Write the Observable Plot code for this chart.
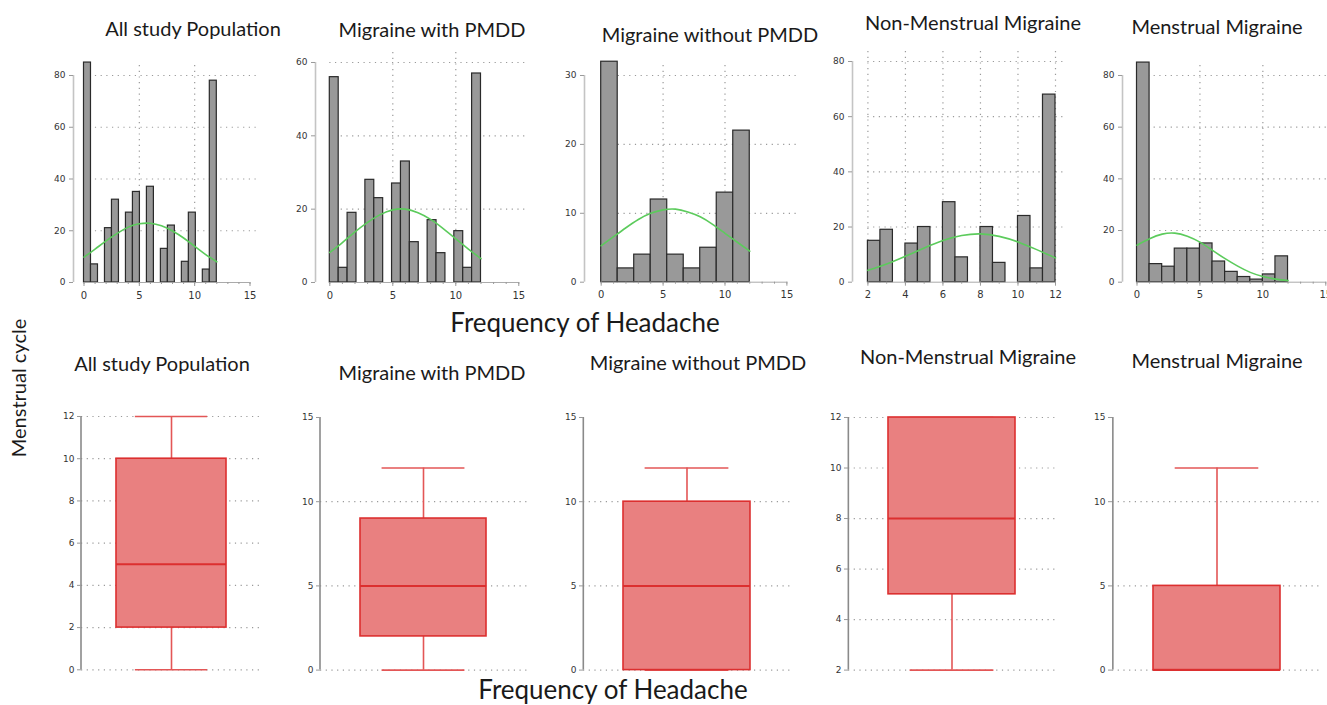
<!DOCTYPE html>
<html><head><meta charset="utf-8">
<script src="https://cdn.jsdelivr.net/npm/d3@7"></script>
<script src="https://cdn.jsdelivr.net/npm/@observablehq/plot@0.6"></script>
<style>
body{margin:0;background:#fff;}
#page{position:relative;width:1327px;height:705px;overflow:hidden;font-family:Lato,"Open Sans",sans-serif;}
.t{position:absolute;transform:translate(-50%,-50%);white-space:nowrap;color:#1a1a1a;font-size:20px;}
.big{font-size:26px;}
.rot{transform:translate(-50%,-50%) rotate(-90deg);font-size:20px;}
.panel{position:absolute;}
.panel svg{max-width:none !important;}
</style></head><body><div id="page"></div>
<script>
// ---------------- DATA ----------------
const groupNames = ["All study Population","Migraine with PMDD","Migraine without PMDD","Non-Menstrual Migraine","Menstrual Migraine"];
const axisTitle = "Frequency of Headache";
const sideTitle = "Menstrual cycle";

// histogram counts per bin (bins spread evenly between binStart and binEnd)
const histAll      = [85,7,0,21,32,0,27,35,0,37,0,13,22,0,8,27,0,5,78];
const histWithPMDD = [56,4,19,0,28,23,0,27,33,11,0,17,8,0,14,4,57];
const histNoPMDD   = [32,2,4,12,4,2,5,13,22];
const histNonMM    = [15,19,0,14,20,0,29,9,0,20,7,0,24,5,68];
const histMM       = [85,7,6,13,13,15,8,4,2,1,3,10];
const binStart = [0,0,0,2,0];
const binEnd   = [12,12,12,12,12];

// normal-curve readings
const curveXAll = [0,1,2,3,4,5,6,7,8,9,10,11,12];
const curveAll      = [9.8,12.9,16.1,19.0,21.4,22.7,22.9,21.9,19.9,17.2,14.0,10.8,8.0];
const curveWithPMDD = [8.2,10.9,13.8,16.4,18.5,19.8,20.0,19.0,17.2,14.7,11.9,9.1,6.5];
const curveNoPMDD   = [5.3,6.6,7.9,9.1,10.0,10.5,10.6,10.2,9.5,8.4,7.1,5.8,4.5];
const curveXNonMM = [2,3,4,5,6,7,8,9,10,11,12];
const curveNonMM    = [4.3,6.6,9.4,12.4,15.1,16.9,17.5,16.6,14.6,11.8,8.8];
const curveMM       = [14.3,16.8,18.6,19.0,17.8,15.5,12.3,9.1,6.2,3.8,2.2,1.2,0.6];

// histogram axes
const histXTicks = [[0,5,10,15],[0,5,10,15],[0,5,10,15],[2,4,6,8,10,12],[0,5,10,15]];
const histXDomain = [[0,15],[0,15],[0,15],[2,12],[0,15]];
const histYTicks = [[0,20,40,60,80],[0,20,40,60],[0,10,20,30],[0,20,40,60,80],[0,20,40,60,80]];
const histYDomain = [[0,80],[0,60],[0,30],[0,80],[0,80]];
const histGridX = [[5,10],[5,10],[5,10],[2,4,6,8,10,12],[5,10]];

// box plot summaries
const boxLow    = [0,0,0,2,0];
const boxQ1     = [2,2,0,5,0];
const boxMedian = [5,5,5,8,0];
const boxQ3     = [10,9,10,12,5];
const boxHigh   = [12,12,12,12,12];
const boxYDomain = [[0,12],[0,15],[0,15],[2,12],[0,15]];
const boxYTicks  = [[0,2,4,6,8,10,12],[0,5,10,15],[0,5,10,15],[2,4,6,8,10,12],[0,5,10,15]];

// ---------------- LAYOUT ----------------
const histPx = [
  {x0:83, x1:249, yb:282, yt:75, ax:72.5},
  {x0:329.3, x1:518.3, yb:281.7, yt:61.7, ax:315},
  {x0:601, x1:786.7, yb:281.7, yt:75, ax:584.3},
  {x0:867.7, x1:1055.3, yb:281.7, yt:61, ax:852.3},
  {x0:1136.2, x1:1325, yb:281.7, yt:75, ax:1121.7}
];
const boxPx = [
  {ax:80.7, gx:261.7, yb:669.3, yt:416},
  {ax:320, gx:527, yb:669.3, yt:416.7},
  {ax:583.3, gx:790.7, yb:669.3, yt:416.7},
  {ax:847.7, gx:1055, yb:669.3, yt:416.7},
  {ax:1111.7, gx:1320, yb:669.3, yt:416.7}
];
const topTitlePos = [[193,28],[432,29],[710,34],[973,22],[1217,26]];
const botTitlePos = [[162,363],[432,372],[698,362],[968,356],[1217,360]];

const page = document.getElementById("page");
function text(str, x, y, cls){const d=document.createElement("div");d.className="t "+(cls||"");d.textContent=str;d.style.left=x+"px";d.style.top=y+"px";page.appendChild(d);}
function place(svg, left, top){const d=document.createElement("div");d.className="panel";d.style.left=left+"px";d.style.top=top+"px";d.appendChild(svg);page.appendChild(d);}
const baseStyle = {background:"transparent", overflow:"visible", maxWidth:"none", fontFamily:"'DejaVu Sans', sans-serif", fontSize:"9px", color:"#333"};
const dots = {stroke:"#9a9a9a", strokeOpacity:1, strokeDasharray:"1.2,4.5", strokeWidth:1.2};

const hists = [histAll, histWithPMDD, histNoPMDD, histNonMM, histMM];
const curvesY = [curveAll, curveWithPMDD, curveNoPMDD, curveNonMM, curveMM];
const curvesX = [curveXAll, curveXAll, curveXAll, curveXNonMM, curveXAll];

hists.forEach((counts, k) => {
  const px = histPx[k];
  const w = (binEnd[k]-binStart[k])/counts.length;
  const bins = counts.map((c,i)=>({x1:binStart[k]+i*w, x2:binStart[k]+(i+1)*w, c})).filter(d=>d.c>0);
  const curve = curvesX[k].map((x,i)=>({x, y:curvesY[k][i]}));
  const xd = histXDomain[k], yd = histYDomain[k];
  const left = px.ax-42, top = px.yt-20, right = px.x1+22, bottom = px.yb+32;
  const minor = d3.range(xd[0], xd[1]+0.001, 1);
  const dx = px.ax-px.x0;
  const svg = Plot.plot({
    width:right-left, height:bottom-top,
    marginLeft:px.x0-left, marginRight:right-px.x1, marginTop:px.yt-top, marginBottom:bottom-px.yb,
    x:{domain:xd}, y:{domain:yd},
    style:baseStyle,
    marks:[
      Plot.gridY(histYTicks[k].filter(t=>t>yd[0]), {...dots, insetRight:-10}),
      Plot.gridX(histGridX[k], {...dots, insetTop:-10}),
      Plot.rectY(bins, {x1:"x1", x2:"x2", y:"c", fill:"#999", stroke:"#2a2a2a", strokeWidth:1.2}),
      Plot.line(curve, {x:"x", y:"y", stroke:"#5ccb5c", strokeWidth:1.6, curve:"natural"}),
      Plot.ruleY([yd[0]], {stroke:"#aaa", strokeWidth:1}),
      Plot.axisX({ticks:minor, tickSize:2, tickFormat:()=>"", stroke:"#999"}),
      Plot.axisX({ticks:histXTicks[k], tickSize:4, tickPadding:5, stroke:"#999", fill:"#333", fontSize:10}),
      Plot.ruleX([xd[0]], {dx, stroke:"#c4c4c4", strokeWidth:1.6}),
      Plot.axisY({ticks:histYTicks[k], dx, tickSize:4, tickPadding:4, stroke:"#999", fill:"#333", fontSize:9})
    ]
  });
  place(svg, left, top);
  text(groupNames[k], topTitlePos[k][0], topTitlePos[k][1]);
});

groupNames.forEach((name, k) => {
  const px = boxPx[k];
  const datum = [{name, lo:boxLow[k], q1:boxQ1[k], med:boxMedian[k], q3:boxQ3[k], hi:boxHigh[k]}];
  const left = px.ax-40, top = px.yt-12, right = px.gx+6, bottom = px.yb+14;
  const W = px.gx-px.ax, pad = 0.24, bw = W*(1-pad)/(1+pad), cap = bw*0.17;
  const red = "#e35656", edge = "#dc2f2f";
  const svg = Plot.plot({
    width:right-left, height:bottom-top,
    marginLeft:px.ax-left, marginRight:right-px.gx, marginTop:px.yt-top, marginBottom:bottom-px.yb,
    x:{domain:[name], padding:pad, axis:null},
    y:{domain:boxYDomain[k]},
    style:baseStyle,
    marks:[
      Plot.gridY(boxYTicks[k].filter(t=>!(k===1||k===2||k===4) || t<15), dots),
      Plot.ruleX(datum, {x:"name", y1:"lo", y2:"q1", stroke:red, strokeWidth:1.6}),
      Plot.ruleX(datum, {x:"name", y1:"q3", y2:"hi", stroke:red, strokeWidth:1.6}),
      Plot.tickY(datum, {x:"name", y:"lo", stroke:red, strokeWidth:1.6, insetLeft:cap, insetRight:cap}),
      Plot.tickY(datum, {x:"name", y:"hi", stroke:red, strokeWidth:1.6, insetLeft:cap, insetRight:cap}),
      Plot.barY(datum, {x:"name", y1:"q1", y2:"q3", fill:"#e98080", stroke:edge, strokeWidth:1.6}),
      Plot.tickY(datum, {x:"name", y:"med", stroke:edge, strokeWidth:2}),
      Plot.ruleX(datum, {x:"name", dx:-W/2, stroke:"#8a8a8a", strokeWidth:1.6}),
      Plot.axisY({ticks:boxYTicks[k], tickSize:4, tickPadding:3, stroke:"#999", fill:"#333", fontSize:9})
    ]
  });
  place(svg, left, top);
  text(name, botTitlePos[k][0], botTitlePos[k][1]);
});

text(axisTitle, 585, 322, "big");
text(axisTitle, 613, 689, "big");
text(sideTitle, 18, 388, "rot");
</script></body></html>
